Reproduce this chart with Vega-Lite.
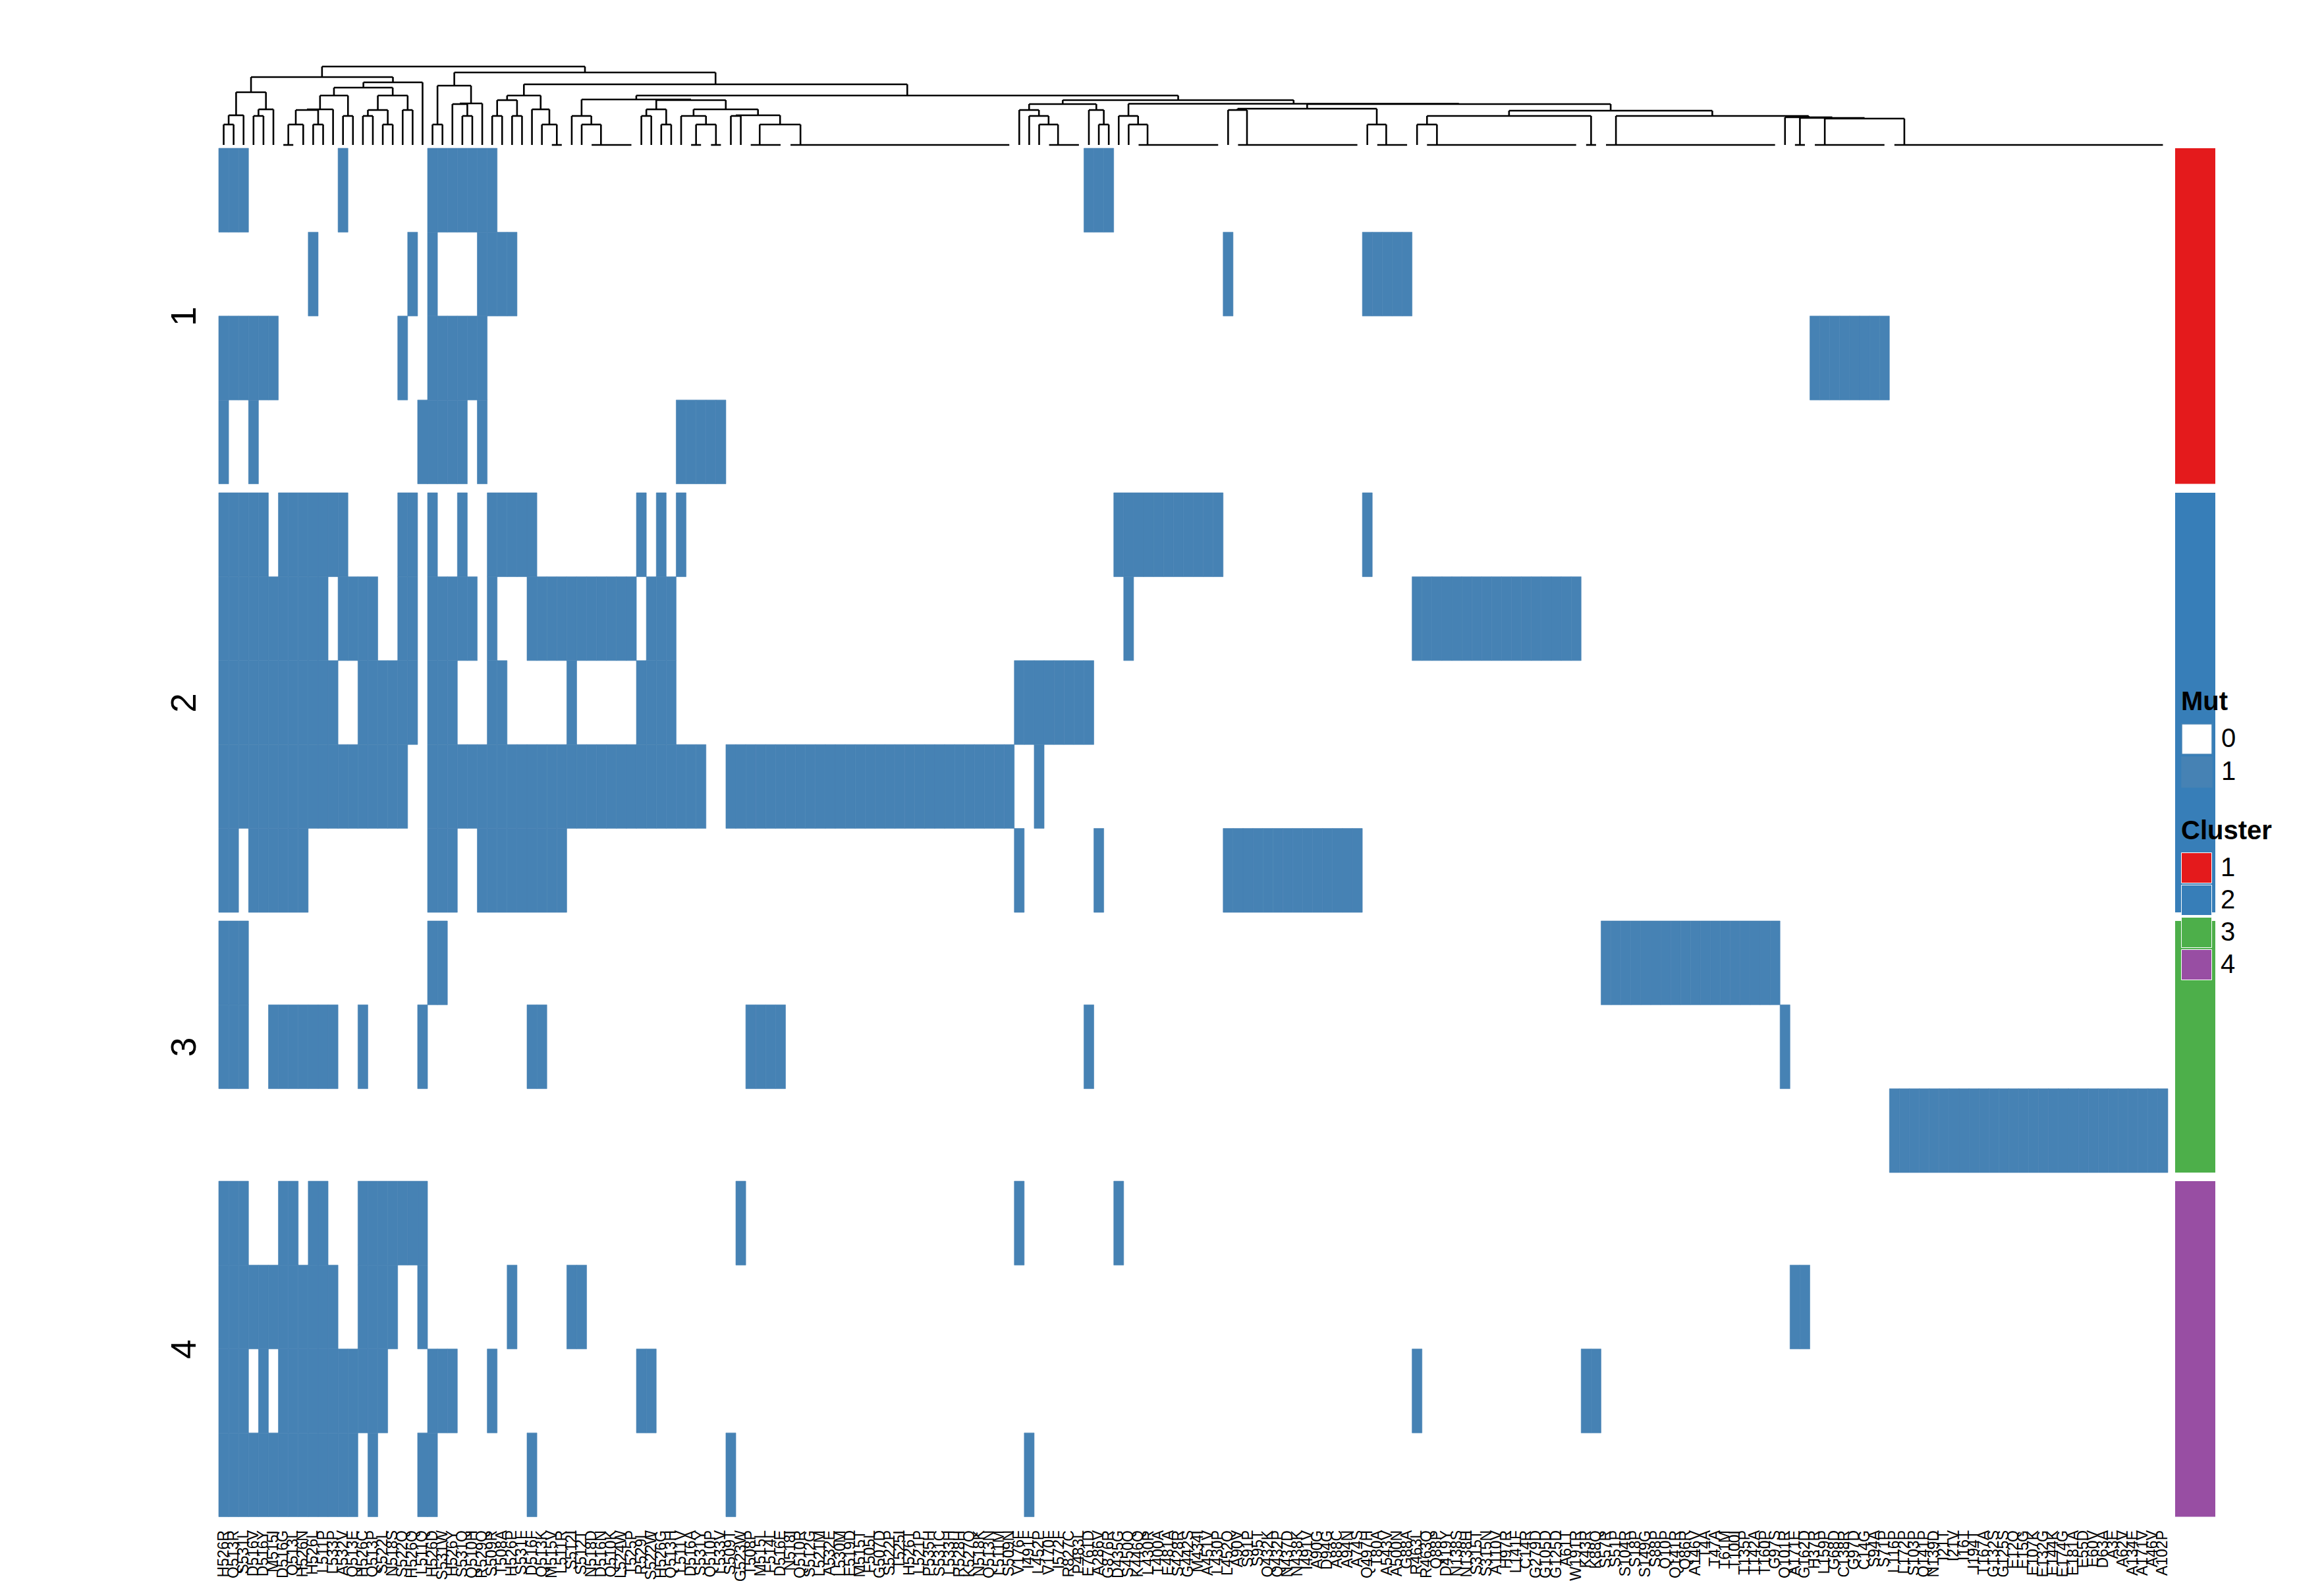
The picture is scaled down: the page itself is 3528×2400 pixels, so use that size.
{
"$schema": "https://vega.github.io/schema/vega-lite/v6.json",
"background": "white",
"padding": {"left": 254, "top": 87, "right": 5, "bottom": 0},
"config": {"view": {"stroke": null}, "font": "Liberation Sans", "axis": {"grid": false}},
"datasets": {
"cols": [
{"o":0,"m":"H526R","s":["a","c","d","e","f","g","h","i","j","k","m","n","o","p"]},
{"o":1,"m":"Q513R","s":["a","c","e","f","g","h","i","j","k","m","n","o","p"]},
{"o":2,"m":"S531L","s":["a","c","e","f","g","h","j","k","m","n","o","p"]},
{"o":3,"m":"D516V","s":["c","d","e","f","g","h","i","n","p"]},
{"o":4,"m":"D516Y","s":["c","e","f","g","h","i","n","o","p"]},
{"o":5,"m":"M515I","s":["c","f","g","h","i","k","n","p"]},
{"o":6,"m":"D516G","s":["e","f","g","h","i","k","m","n","o","p"]},
{"o":7,"m":"Q513L","s":["e","f","g","h","i","k","m","n","o","p"]},
{"o":8,"m":"H526N","s":["e","f","g","h","i","k","n","o","p"]},
{"o":9,"m":"H526L","s":["b","e","f","g","h","k","m","n","o","p"]},
{"o":10,"m":"L511P","s":["e","f","g","h","k","m","n","o","p"]},
{"o":11,"m":"L533P","s":["e","g","h","k","n","o","p"]},
{"o":12,"m":"A532V","s":["a","e","f","h","o","p"]},
{"o":13,"m":"Q513E","s":["f","h","o","p"]},
{"o":14,"m":"H526C","s":["f","g","h","k","m","n","o"]},
{"o":15,"m":"Q513P","s":["f","g","h","m","n","o","p"]},
{"o":16,"m":"S522L","s":["g","h","m","n","o"]},
{"o":17,"m":"N518S","s":["g","h","m","n"]},
{"o":18,"m":"S522Q","s":["c","e","f","g","h","m"]},
{"o":19,"m":"H526Q","s":["b","e","f","g","m"]},
{"o":20,"m":"L511Q","s":["d","k","m","n","p"]},
{"o":21,"m":"H526D","s":["a","b","c","d","e","f","g","h","i","j","o","p"]},
{"o":22,"m":"S531W","s":["a","c","d","f","g","h","i","j","o"]},
{"o":23,"m":"H526Y","s":["a","c","d","f","g","h","i","o"]},
{"o":24,"m":"S531Q","s":["a","c","d","e","f","h"]},
{"o":25,"m":"Q510H","s":["a","c","f","h"]},
{"o":26,"m":"R529Q","s":["a","b","c","d","h","i"]},
{"o":27,"m":"S509R","s":["a","b","e","f","g","h","i","o"]},
{"o":28,"m":"T508A","s":["b","e","g","h","i"]},
{"o":29,"m":"H526P","s":["b","e","h","i","n"]},
{"o":30,"m":"S531F","s":["e","h","i"]},
{"o":31,"m":"D516F","s":["e","f","h","i","k","p"]},
{"o":32,"m":"Q513K","s":["f","h","i","k"]},
{"o":33,"m":"M515V","s":["f","h","i"]},
{"o":34,"m":"L511R","s":["f","h","i"]},
{"o":35,"m":"S512I","s":["f","g","h","n"]},
{"o":36,"m":"S512T","s":["f","h","n"]},
{"o":37,"m":"N518D","s":["f","h"]},
{"o":38,"m":"D516N","s":["f","h"]},
{"o":39,"m":"Q510K","s":["f","h"]},
{"o":40,"m":"L524W","s":["f","h"]},
{"o":41,"m":"T525P","s":["f","h"]},
{"o":42,"m":"R529L","s":["e","g","h","o"]},
{"o":43,"m":"S522W","s":["f","g","h","o"]},
{"o":44,"m":"H526G","s":["e","f","g","h"]},
{"o":45,"m":"Q513H","s":["f","g","h"]},
{"o":46,"m":"L511V","s":["d","e","h"]},
{"o":47,"m":"D516A","s":["d","h"]},
{"o":48,"m":"S531Y","s":["d","h"]},
{"o":49,"m":"Q510P","s":["d"]},
{"o":50,"m":"L533V","s":["d"]},
{"o":51,"m":"S509T","s":["h","p"]},
{"o":52,"m":"G523W","s":["h","m"]},
{"o":53,"m":"T508P","s":["h","k"]},
{"o":54,"m":"M515L","s":["h","k"]},
{"o":55,"m":"F514L","s":["h","k"]},
{"o":56,"m":"D516E","s":["h","k"]},
{"o":57,"m":"N518I","s":["h"]},
{"o":58,"m":"Q510R","s":["h"]},
{"o":59,"m":"S512G","s":["h"]},
{"o":60,"m":"L521M","s":["h"]},
{"o":61,"m":"A532E","s":["h"]},
{"o":62,"m":"L530M","s":["h"]},
{"o":63,"m":"E519D","s":["h"]},
{"o":64,"m":"M515T","s":["h"]},
{"o":65,"m":"F505L","s":["h"]},
{"o":66,"m":"G507D","s":["h"]},
{"o":67,"m":"S522P","s":["h"]},
{"o":68,"m":"T525I","s":["h"]},
{"o":69,"m":"H526T","s":["h"]},
{"o":70,"m":"L521P","s":["h"]},
{"o":71,"m":"P535H","s":["h"]},
{"o":72,"m":"S531C","s":["h"]},
{"o":73,"m":"L533H","s":["h"]},
{"o":74,"m":"R528H","s":["h"]},
{"o":75,"m":"K527Q","s":["h"]},
{"o":76,"m":"N518K","s":["h"]},
{"o":77,"m":"Q513N","s":["h"]},
{"o":78,"m":"L511M","s":["h"]},
{"o":79,"m":"S509N","s":["h"]},
{"o":80,"m":"V176F","s":["g","i","m"]},
{"o":81,"m":"I491F","s":["g","p"]},
{"o":82,"m":"L452P","s":["g","h"]},
{"o":83,"m":"V170F","s":["g"]},
{"o":84,"m":"I572F","s":["g"]},
{"o":85,"m":"R827C","s":["g"]},
{"o":86,"m":"P483L","s":["g"]},
{"o":87,"m":"E761D","s":["a","g","k"]},
{"o":88,"m":"A286V","s":["a","i"]},
{"o":89,"m":"G876R","s":["a"]},
{"o":90,"m":"D435G","s":["e","m"]},
{"o":91,"m":"S450Q","s":["e","f"]},
{"o":92,"m":"K446Q","s":["e"]},
{"o":93,"m":"L430R","s":["e"]},
{"o":94,"m":"T400A","s":["e"]},
{"o":95,"m":"E481A","s":["e"]},
{"o":96,"m":"S428R","s":["e"]},
{"o":97,"m":"G442S","s":["e"]},
{"o":98,"m":"M434I","s":["e"]},
{"o":99,"m":"A451V","s":["e"]},
{"o":100,"m":"L430P","s":["e"]},
{"o":101,"m":"L452Q","s":["b","i"]},
{"o":102,"m":"A90V","s":["i"]},
{"o":103,"m":"S91P","s":["i"]},
{"o":104,"m":"S95T","s":["i"]},
{"o":105,"m":"Q432K","s":["i"]},
{"o":106,"m":"Q432P","s":["i"]},
{"o":107,"m":"N437D","s":["i"]},
{"o":108,"m":"N438K","s":["i"]},
{"o":109,"m":"I491V","s":["i"]},
{"o":110,"m":"A90G","s":["i"]},
{"o":111,"m":"D94G","s":["i"]},
{"o":112,"m":"A88C","s":["i"]},
{"o":113,"m":"A94N","s":["i"]},
{"o":114,"m":"A74S","s":["i"]},
{"o":115,"m":"Q497H","s":["b","e"]},
{"o":116,"m":"T80A","s":["b"]},
{"o":117,"m":"A543V","s":["b"]},
{"o":118,"m":"A500N","s":["b"]},
{"o":119,"m":"G88A","s":["b"]},
{"o":120,"m":"R463L","s":["f","o"]},
{"o":121,"m":"R463Q","s":["f"]},
{"o":122,"m":"Q88P","s":["f"]},
{"o":123,"m":"D419Y","s":["f"]},
{"o":124,"m":"N138S","s":["f"]},
{"o":125,"m":"N138H","s":["f"]},
{"o":126,"m":"S315T","s":["f"]},
{"o":127,"m":"S315N","s":["f"]},
{"o":128,"m":"A110V","s":["f"]},
{"o":129,"m":"H97R","s":["f"]},
{"o":130,"m":"L141F","s":["f"]},
{"o":131,"m":"C14R","s":["f"]},
{"o":132,"m":"G279D","s":["f"]},
{"o":133,"m":"G105D","s":["f"]},
{"o":134,"m":"G125D","s":["f"]},
{"o":135,"m":"A61T","s":["f"]},
{"o":136,"m":"W191R","s":["f"]},
{"o":137,"m":"K43R","s":["o"]},
{"o":138,"m":"K88Q","s":["o"]},
{"o":139,"m":"S57R","s":["j"]},
{"o":140,"m":"S51P","s":["j"]},
{"o":141,"m":"S104R","s":["j"]},
{"o":142,"m":"S18P","s":["j"]},
{"o":143,"m":"S149G","s":["j"]},
{"o":144,"m":"S88P","s":["j"]},
{"o":145,"m":"Q10P","s":["j"]},
{"o":146,"m":"Q141R","s":["j"]},
{"o":147,"m":"Q86R","s":["j"]},
{"o":148,"m":"A146V","s":["j"]},
{"o":149,"m":"T4A","s":["j"]},
{"o":150,"m":"T47A","s":["j"]},
{"o":151,"m":"T61M","s":["j"]},
{"o":152,"m":"T100I","s":["j"]},
{"o":153,"m":"T135P","s":["j"]},
{"o":154,"m":"T142A","s":["j"]},
{"o":155,"m":"T160P","s":["j"]},
{"o":156,"m":"G97S","s":["j"]},
{"o":157,"m":"Q101R","s":["k"]},
{"o":158,"m":"A171E","s":["n"]},
{"o":159,"m":"G162D","s":["n"]},
{"o":160,"m":"H37R","s":["c"]},
{"o":161,"m":"L159P","s":["c"]},
{"o":162,"m":"G68D","s":["c"]},
{"o":163,"m":"C138R","s":["c"]},
{"o":164,"m":"G97D","s":["c"]},
{"o":165,"m":"C14G","s":["c"]},
{"o":166,"m":"S94A","s":["c"]},
{"o":167,"m":"S71P","s":["c"]},
{"o":168,"m":"L116P","s":["l"]},
{"o":169,"m":"L172P","s":["l"]},
{"o":170,"m":"S103P","s":["l"]},
{"o":171,"m":"Q141P","s":["l"]},
{"o":172,"m":"N139D","s":["l"]},
{"o":173,"m":"I21T","s":["l"]},
{"o":174,"m":"I21V","s":["l"]},
{"o":175,"m":"I16T","s":["l"]},
{"o":176,"m":"I194T","s":["l"]},
{"o":177,"m":"T167A","s":["l"]},
{"o":178,"m":"G132S","s":["l"]},
{"o":179,"m":"G125S","s":["l"]},
{"o":180,"m":"E12Q","s":["l"]},
{"o":181,"m":"E15G","s":["l"]},
{"o":182,"m":"E107K","s":["l"]},
{"o":183,"m":"E132G","s":["l"]},
{"o":184,"m":"E144K","s":["l"]},
{"o":185,"m":"E174G","s":["l"]},
{"o":186,"m":"E181A","s":["l"]},
{"o":187,"m":"E55D","s":["l"]},
{"o":188,"m":"E60V","s":["l"]},
{"o":189,"m":"D63A","s":["l"]},
{"o":190,"m":"A3E","s":["l"]},
{"o":191,"m":"A62V","s":["l"]},
{"o":192,"m":"A134E","s":["l"]},
{"o":193,"m":"A171V","s":["l"]},
{"o":194,"m":"A46V","s":["l"]},
{"o":195,"m":"A102P","s":["l"]}
],
"clusters": [{"cluster":"1"},{"cluster":"2"},{"cluster":"3"},{"cluster":"4"}],
"dend": [
{"x1":0.5,"x2":1.5,"h":31,"h1":0,"h2":0},
{"x1":1.0,"x2":2.5,"h":45,"h1":31,"h2":0},
{"x1":3.5,"x2":4.5,"h":44,"h1":0,"h2":0},
{"x1":4.0,"x2":5.5,"h":54,"h1":44,"h2":0},
{"x1":1.75,"x2":4.75,"h":80,"h1":45,"h2":54},
{"x1":6.5,"x2":7.5,"h":0,"h1":0,"h2":0},
{"x1":7.0,"x2":8.5,"h":31,"h1":0,"h2":0},
{"x1":9.5,"x2":10.5,"h":31,"h1":0,"h2":0},
{"x1":7.75,"x2":10.0,"h":53,"h1":31,"h2":31},
{"x1":8.875,"x2":11.5,"h":54,"h1":53,"h2":0},
{"x1":12.5,"x2":13.5,"h":44,"h1":0,"h2":0},
{"x1":10.19,"x2":13.0,"h":75,"h1":54,"h2":44},
{"x1":14.5,"x2":15.5,"h":44,"h1":0,"h2":0},
{"x1":16.5,"x2":17.5,"h":31,"h1":0,"h2":0},
{"x1":15.0,"x2":17.0,"h":53,"h1":44,"h2":31},
{"x1":18.5,"x2":19.5,"h":53,"h1":0,"h2":0},
{"x1":16.0,"x2":19.0,"h":75,"h1":53,"h2":53},
{"x1":11.59,"x2":17.5,"h":87,"h1":75,"h2":75},
{"x1":14.55,"x2":20.5,"h":95,"h1":87,"h2":0},
{"x1":3.25,"x2":17.52,"h":103,"h1":80,"h2":95},
{"x1":21.5,"x2":22.5,"h":31,"h1":0,"h2":0},
{"x1":24.5,"x2":25.5,"h":44,"h1":0,"h2":0},
{"x1":23.5,"x2":25.0,"h":62,"h1":0,"h2":44},
{"x1":24.25,"x2":26.5,"h":63,"h1":62,"h2":0},
{"x1":22.0,"x2":25.375,"h":90,"h1":31,"h2":63},
{"x1":27.5,"x2":28.5,"h":44,"h1":0,"h2":0},
{"x1":29.5,"x2":30.5,"h":44,"h1":0,"h2":0},
{"x1":28.0,"x2":30.0,"h":68,"h1":44,"h2":44},
{"x1":33.5,"x2":34.5,"h":0,"h1":0,"h2":0},
{"x1":32.5,"x2":34.0,"h":31,"h1":0,"h2":0},
{"x1":31.5,"x2":33.25,"h":54,"h1":0,"h2":31},
{"x1":29.0,"x2":32.375,"h":75,"h1":68,"h2":54},
{"x1":37.5,"x2":41.5,"h":0,"h1":0,"h2":0},
{"x1":36.5,"x2":38.44,"h":31,"h1":0,"h2":0},
{"x1":35.5,"x2":37.47,"h":44,"h1":0,"h2":31},
{"x1":42.5,"x2":43.5,"h":44,"h1":0,"h2":0},
{"x1":44.5,"x2":45.5,"h":31,"h1":0,"h2":0},
{"x1":43.0,"x2":45.0,"h":54,"h1":44,"h2":31},
{"x1":47.5,"x2":48.5,"h":0,"h1":0,"h2":0},
{"x1":49.5,"x2":50.5,"h":0,"h1":0,"h2":0},
{"x1":48.0,"x2":50.0,"h":31,"h1":0,"h2":0},
{"x1":46.5,"x2":49.0,"h":44,"h1":0,"h2":31},
{"x1":51.5,"x2":52.5,"h":44,"h1":0,"h2":0},
{"x1":53.5,"x2":56.5,"h":0,"h1":0,"h2":0},
{"x1":57.5,"x2":79.5,"h":0,"h1":0,"h2":0},
{"x1":54.4,"x2":58.5,"h":31,"h1":0,"h2":0},
{"x1":52.0,"x2":56.45,"h":45,"h1":44,"h2":31},
{"x1":47.75,"x2":54.23,"h":54,"h1":44,"h2":45},
{"x1":44.0,"x2":50.99,"h":68,"h1":54,"h2":54},
{"x1":36.49,"x2":47.49,"h":69,"h1":44,"h2":68},
{"x1":83.5,"x2":86.5,"h":0,"h1":0,"h2":0},
{"x1":82.5,"x2":84.4,"h":31,"h1":0,"h2":0},
{"x1":81.5,"x2":83.45,"h":44,"h1":0,"h2":31},
{"x1":80.5,"x2":82.48,"h":53,"h1":0,"h2":44},
{"x1":88.5,"x2":89.5,"h":31,"h1":0,"h2":0},
{"x1":87.5,"x2":89.0,"h":53,"h1":0,"h2":31},
{"x1":81.49,"x2":88.25,"h":62,"h1":53,"h2":53},
{"x1":92.5,"x2":100.5,"h":0,"h1":0,"h2":0},
{"x1":91.5,"x2":93.4,"h":31,"h1":0,"h2":0},
{"x1":90.5,"x2":92.45,"h":44,"h1":0,"h2":31},
{"x1":102.5,"x2":114.5,"h":0,"h1":0,"h2":0},
{"x1":101.5,"x2":103.4,"h":53,"h1":0,"h2":0},
{"x1":116.5,"x2":119.5,"h":0,"h1":0,"h2":0},
{"x1":115.5,"x2":117.4,"h":31,"h1":0,"h2":0},
{"x1":102.45,"x2":116.45,"h":55,"h1":53,"h2":31},
{"x1":121.5,"x2":136.5,"h":0,"h1":0,"h2":0},
{"x1":120.5,"x2":122.5,"h":31,"h1":0,"h2":0},
{"x1":137.5,"x2":138.5,"h":0,"h1":0,"h2":0},
{"x1":121.5,"x2":138.0,"h":44,"h1":31,"h2":0},
{"x1":139.5,"x2":156.5,"h":0,"h1":0,"h2":0},
{"x1":158.5,"x2":159.5,"h":0,"h1":0,"h2":0},
{"x1":160.5,"x2":167.5,"h":0,"h1":0,"h2":0},
{"x1":168.5,"x2":195.5,"h":0,"h1":0,"h2":0},
{"x1":161.5,"x2":169.5,"h":40,"h1":0,"h2":0},
{"x1":159.0,"x2":165.5,"h":41,"h1":0,"h2":40},
{"x1":157.5,"x2":162.25,"h":42,"h1":0,"h2":41},
{"x1":140.5,"x2":159.88,"h":44,"h1":0,"h2":42},
{"x1":129.75,"x2":150.19,"h":52,"h1":44,"h2":44},
{"x1":109.45,"x2":139.97,"h":62,"h1":55,"h2":52},
{"x1":91.48,"x2":124.71,"h":62.5,"h1":44,"h2":62},
{"x1":84.87,"x2":108.09,"h":68,"h1":62,"h2":62.5},
{"x1":41.99,"x2":96.48,"h":75,"h1":69,"h2":68},
{"x1":30.69,"x2":69.24,"h":92,"h1":75,"h2":75},
{"x1":23.69,"x2":49.96,"h":110,"h1":90,"h2":92},
{"x1":10.39,"x2":36.83,"h":119,"h1":103,"h2":110}
]
},
"resolve": {"scale": {"fill": "shared", "color": "shared"}, "legend": {"fill": "shared", "color": "shared"}},
"columns": 2,
"align": "each",
"bounds": "flush",
"spacing": {"row": 13, "column": 11},
"concat": [
{
"width": 2959, "height": 125,
"data": {"name": "dend"},
"layer": [
{"mark": {"type": "rule", "color": "black", "strokeWidth": 2.6},
 "encoding": {"x": {"field": "x1", "type": "quantitative", "scale": {"domain": [0, 196], "nice": false, "zero": false}, "axis": null},
  "x2": {"field": "x2"},
  "y": {"field": "h", "type": "quantitative", "scale": {"domain": [8, 133], "nice": false, "zero": false}, "axis": null}}},
{"mark": {"type": "rule", "color": "black", "strokeWidth": 2.6},
 "encoding": {"x": {"field": "x1", "type": "quantitative", "scale": {"domain": [0, 196], "nice": false, "zero": false}, "axis": null},
  "y": {"field": "h1", "type": "quantitative", "scale": {"domain": [8, 133], "nice": false, "zero": false}, "axis": null},
  "y2": {"field": "h"}}},
{"mark": {"type": "rule", "color": "black", "strokeWidth": 2.6},
 "encoding": {"x": {"field": "x2", "type": "quantitative", "scale": {"domain": [0, 196], "nice": false, "zero": false}, "axis": null},
  "y": {"field": "h2", "type": "quantitative", "scale": {"domain": [8, 133], "nice": false, "zero": false}, "axis": null},
  "y2": {"field": "h"}}}
]
},
{"width": 61, "height": 125, "data": {"values": []}, "mark": {"type": "rect"}, "encoding": {}},
{"width": 2959, "height": 509.5, "layer": [
  {"data": {"name": "cols"}, "mark": {"type": "rect"},
   "encoding": {"x": {"field": "m", "type": "nominal", "sort": {"field": "o", "op": "min"}, "scale": {"paddingInner": 0, "paddingOuter": 0}, "axis": null},
    "fill": {"datum": "0", "type": "nominal", "scale": {"domain": ["0", "1"], "range": ["#FFFFFF", "#4682B4"]},
     "legend": {"title": "Mut", "orient": "none", "legendX": 2979, "legendY": 959, "titleFontSize": 40, "titleFont": "Liberation Sans", "titleFontWeight": "bold", "titleColor": "black", "labelFontSize": 40, "labelFont": "Liberation Sans", "labelColor": "black", "symbolType": "square", "symbolSize": 2116, "symbolStrokeColor": "#C8C8C8", "symbolStrokeWidth": 1.5, "rowPadding": -4, "labelOffset": 13, "titlePadding": 12}}}},
  {"data": {"name": "cols"}, "transform": [{"flatten": ["s"]}, {"filter": {"field": "s", "oneOf": ["a", "b", "c", "d"]}}], "mark": {"type": "rect", "stroke": "#4682B4", "strokeWidth": 0.6},
   "encoding": {"x": {"field": "m", "type": "nominal", "sort": {"field": "o", "op": "min"}, "axis": null},
    "y": {"field": "s", "type": "nominal", "scale": {"paddingInner": 0, "paddingOuter": 0}, "axis": {"title": "1", "labels": false, "ticks": false, "domain": false, "titleFontSize": 53, "titleFontWeight": "normal", "titleColor": "black", "titlePadding": 25}},
    "fill": {"datum": "1", "type": "nominal"}}}
]},
{"width": 61, "height": 509.5, "data": {"name": "clusters"}, "transform": [{"filter": {"field": "cluster", "equal": "1"}}], "mark": {"type": "rect"},
  "encoding": {"color": {"field": "cluster", "type": "nominal", "scale": {"domain": ["1", "2", "3", "4"], "range": ["#E41A1C", "#377EB8", "#4DAF4A", "#984EA3"]},
   "legend": {"title": "Cluster", "orient": "none", "legendX": 2979, "legendY": 1155, "titleFontSize": 40, "titleFont": "Liberation Sans", "titleFontWeight": "bold", "titleColor": "black", "labelFontSize": 40, "labelFont": "Liberation Sans", "labelColor": "black", "symbolType": "square", "symbolSize": 2116, "symbolStrokeColor": "white", "symbolStrokeWidth": 1, "rowPadding": -4, "labelOffset": 13, "titlePadding": 12}}}},
{"width": 2959, "height": 637, "layer": [
  {"data": {"name": "cols"}, "mark": {"type": "rect"},
   "encoding": {"x": {"field": "m", "type": "nominal", "sort": {"field": "o", "op": "min"}, "scale": {"paddingInner": 0, "paddingOuter": 0}, "axis": null},
    "fill": {"datum": "0", "type": "nominal"}}},
  {"data": {"name": "cols"}, "transform": [{"flatten": ["s"]}, {"filter": {"field": "s", "oneOf": ["e", "f", "g", "h", "i"]}}], "mark": {"type": "rect", "stroke": "#4682B4", "strokeWidth": 0.6},
   "encoding": {"x": {"field": "m", "type": "nominal", "sort": {"field": "o", "op": "min"}, "axis": null},
    "y": {"field": "s", "type": "nominal", "scale": {"paddingInner": 0, "paddingOuter": 0}, "axis": {"title": "2", "labels": false, "ticks": false, "domain": false, "titleFontSize": 53, "titleFontWeight": "normal", "titleColor": "black", "titlePadding": 25}},
    "fill": {"datum": "1", "type": "nominal"}}}
]},
{"width": 61, "height": 637, "data": {"name": "clusters"}, "transform": [{"filter": {"field": "cluster", "equal": "2"}}], "mark": {"type": "rect"},
  "encoding": {"color": {"field": "cluster", "type": "nominal"}}},
{"width": 2959, "height": 382, "layer": [
  {"data": {"name": "cols"}, "mark": {"type": "rect"},
   "encoding": {"x": {"field": "m", "type": "nominal", "sort": {"field": "o", "op": "min"}, "scale": {"paddingInner": 0, "paddingOuter": 0}, "axis": null},
    "fill": {"datum": "0", "type": "nominal"}}},
  {"data": {"name": "cols"}, "transform": [{"flatten": ["s"]}, {"filter": {"field": "s", "oneOf": ["j", "k", "l"]}}], "mark": {"type": "rect", "stroke": "#4682B4", "strokeWidth": 0.6},
   "encoding": {"x": {"field": "m", "type": "nominal", "sort": {"field": "o", "op": "min"}, "axis": null},
    "y": {"field": "s", "type": "nominal", "scale": {"paddingInner": 0, "paddingOuter": 0}, "axis": {"title": "3", "labels": false, "ticks": false, "domain": false, "titleFontSize": 53, "titleFontWeight": "normal", "titleColor": "black", "titlePadding": 25}},
    "fill": {"datum": "1", "type": "nominal"}}}
]},
{"width": 61, "height": 382, "data": {"name": "clusters"}, "transform": [{"filter": {"field": "cluster", "equal": "3"}}], "mark": {"type": "rect"},
  "encoding": {"color": {"field": "cluster", "type": "nominal"}}},
{"width": 2959, "height": 509.5, "layer": [
  {"data": {"name": "cols"}, "mark": {"type": "rect"},
   "encoding": {"x": {"field": "m", "type": "nominal", "sort": {"field": "o", "op": "min"}, "scale": {"paddingInner": 0, "paddingOuter": 0},
     "axis": {"title": null, "labelAngle": -90, "labelFontSize": 23, "labelFont": "Liberation Sans", "labelColor": "black", "ticks": false, "domain": false, "labelPadding": 20, "labelOverlap": false, "labelLimit": 0}},
    "fill": {"datum": "0", "type": "nominal"}}},
  {"data": {"name": "cols"}, "transform": [{"flatten": ["s"]}, {"filter": {"field": "s", "oneOf": ["m", "n", "o", "p"]}}], "mark": {"type": "rect", "stroke": "#4682B4", "strokeWidth": 0.6},
   "encoding": {"x": {"field": "m", "type": "nominal", "sort": {"field": "o", "op": "min"},
     "axis": {"title": null, "labelAngle": -90, "labelFontSize": 23, "labelFont": "Liberation Sans", "labelColor": "black", "ticks": false, "domain": false, "labelPadding": 20, "labelOverlap": false, "labelLimit": 0}},
    "y": {"field": "s", "type": "nominal", "scale": {"paddingInner": 0, "paddingOuter": 0}, "axis": {"title": "4", "labels": false, "ticks": false, "domain": false, "titleFontSize": 53, "titleFontWeight": "normal", "titleColor": "black", "titlePadding": 25}},
    "fill": {"datum": "1", "type": "nominal"}}}
]},
{"width": 61, "height": 509.5, "data": {"name": "clusters"}, "transform": [{"filter": {"field": "cluster", "equal": "4"}}], "mark": {"type": "rect"},
  "encoding": {"color": {"field": "cluster", "type": "nominal"}}}
]
}
